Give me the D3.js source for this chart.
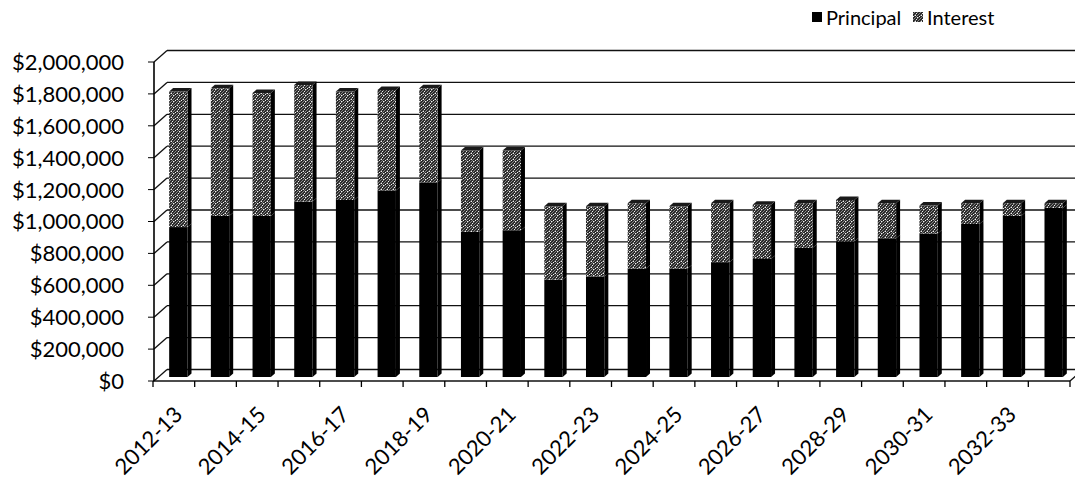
<!DOCTYPE html>
<html>
<head>
<meta charset="utf-8">
<script src="https://cdn.jsdelivr.net/npm/d3@7"></script>
<style>
  html, body { margin: 0; padding: 0; background: #fff; }
  svg { display: block; font-family: Lato, "Open Sans", sans-serif; }
</style>
</head>
<body>
<svg id="chart" width="1075" height="478"></svg>
<script>
// Fiscal years of the debt service schedule
const categories = [
  "2012-13","2013-14","2014-15","2015-16","2016-17","2017-18","2018-19",
  "2019-20","2020-21","2021-22","2022-23","2023-24","2024-25","2025-26",
  "2026-27","2027-28","2028-29","2029-30","2030-31","2031-32","2032-33","2033-34"
];

// Principal paid each year ($)
const principal = [
  940000, 1010000, 1010000, 1100000, 1110000, 1170000, 1220000,
  910000, 920000, 610000, 630000, 680000, 680000, 720000,
  740000, 810000, 850000, 870000, 900000, 960000, 1010000, 1060000
];

// Interest paid each year ($)
const interest = [
  850000, 800000, 770000, 730000, 680000, 630000, 590000,
  510000, 500000, 460000, 440000, 410000, 390000, 370000,
  340000, 280000, 260000, 220000, 175000, 130000, 80000, 30000
];

const yTicks = [0, 200000, 400000, 600000, 800000, 1000000, 1200000, 1400000, 1600000, 1800000, 2000000];
const xLabels = categories.filter((d, i) => i % 2 === 0);

const svg = d3.select("#chart");

// speckled diagonal hatch used for the interest segments
const defs = svg.append("defs");
const pat = defs.append("pattern")
  .attr("id", "hatch")
  .attr("patternUnits", "userSpaceOnUse")
  .attr("width", 6).attr("height", 6);
pat.append("rect").attr("width", 6).attr("height", 6).attr("fill", "#2a2a2a");
pat.append("path").attr("d", "M-1,1 L1,-1 M0,6 L6,0 M5,7 L7,5 M-1,4 L4,-1 M2,7 L7,2")
  .attr("stroke", "#9a9a9a").attr("stroke-width", 0.8);
[[1, 4], [4, 1], [3, 3], [5, 5]].forEach(([cx, cy]) =>
  pat.append("rect").attr("x", cx).attr("y", cy).attr("width", 1).attr("height", 1).attr("fill", "#f0f0f0"));

const x = d3.scaleBand().domain(categories).range([153, 1070]).padding(0);
const y = d3.scaleLinear().domain([0, 2000000]).range([381, 62]);

// depth of the 3-D plot box
const DX = 13, DY = -11.5;
const fmt = v => "$" + d3.format(",")(v);

const grid = svg.append("g").attr("stroke", "#111").attr("stroke-width", 1.3).attr("fill", "none");

// back wall gridlines and side wall diagonals
yTicks.forEach(t => {
  const yy = y(t);
  grid.append("line")
    .attr("x1", 154 + DX).attr("y1", yy + DY)
    .attr("x2", 1075 + DX).attr("y2", yy + DY);
  grid.append("line")
    .attr("x1", 154).attr("y1", yy)
    .attr("x2", 154 + DX).attr("y2", yy + DY);
});

// floor front edge + right edge
grid.append("line").attr("x1", 153).attr("y1", y(0)).attr("x2", 1070).attr("y2", y(0)).attr("stroke-width", 1.6);
grid.append("line").attr("x1", 1070).attr("y1", y(0)).attr("x2", 1070 + DX).attr("y2", y(0) + DY);

// vertical value axis
const yAxis = svg.append("g").attr("stroke", "#000");
yAxis.append("line").attr("x1", 154).attr("x2", 154).attr("y1", y(0)).attr("y2", y(2000000)).attr("stroke-width", 1.6);
yTicks.forEach(t => {
  yAxis.append("line").attr("x1", 148).attr("x2", 154).attr("y1", y(t)).attr("y2", y(t));
});
svg.append("g").selectAll("text").data(yTicks).join("text")
  .attr("x", 124).attr("y", d => y(d)).attr("dy", "0.36em")
  .attr("text-anchor", "end").attr("font-size", 22).attr("fill", "#000")
  .text(fmt);

// category tick marks
const xt = svg.append("g").attr("stroke", "#000").attr("stroke-width", 1.3);
categories.forEach(c => {
  xt.append("line").attr("x1", x(c)).attr("x2", x(c)).attr("y1", y(0)).attr("y2", y(0) + 6);
});
xt.append("line").attr("x1", 1070).attr("x2", 1070).attr("y1", y(0)).attr("y2", y(0) + 6);

// category labels on every second year
svg.append("g").selectAll("text").data(xLabels).join("text")
  .attr("text-anchor", "end").attr("font-size", 22).attr("fill", "#000")
  .attr("transform", d => `translate(${x(d) + x.bandwidth() / 2 + 10},${y(0) + 35}) rotate(-45)`)
  .text(d => d);

// 3-D stacked columns
const faceW = x.bandwidth() * 0.44;
const offX = 4.5, offY = -4;     // columns sit at mid depth
const bdx = 4, bdy = -3.5;       // column depth

const stack = d3.stack().keys(["principal", "interest"])(
  categories.map((c, i) => ({ cat: c, principal: principal[i], interest: interest[i] }))
);
const fills = { principal: "#000", interest: "url(#hatch)" };

const bars = svg.append("g");
categories.forEach((c, i) => {
  const px = x(c) + x.bandwidth() / 2 - faceW / 2 + offX;
  stack.forEach(layer => {
    const [v0, v1] = layer[i];
    const y0 = y(v0) + offY, y1 = y(v1) + offY;
    const g = bars.append("g");
    // right side
    g.append("polygon")
      .attr("points", [[px + faceW, y1], [px + faceW + bdx, y1 + bdy], [px + faceW + bdx, y0 + bdy], [px + faceW, y0]].join(" "))
      .attr("fill", "#000");
    // front
    g.append("rect")
      .attr("x", px).attr("y", y1).attr("width", faceW).attr("height", y0 - y1)
      .attr("fill", fills[layer.key]);
    // top cap on the uppermost segment
    if (layer.key === "interest") {
      g.append("polygon")
        .attr("points", [[px, y1], [px + bdx, y1 + bdy], [px + faceW + bdx, y1 + bdy], [px + faceW, y1]].join(" "))
        .attr("fill", "#1a1a1a");
    }
  });
});

// legend
const legend = svg.append("g").attr("font-size", 20).attr("fill", "#000");
legend.append("rect").attr("x", 812).attr("y", 12).attr("width", 10).attr("height", 10).attr("fill", "#000");
legend.append("text").attr("x", 826).attr("y", 25).text("Principal");
legend.append("rect").attr("x", 913).attr("y", 12).attr("width", 10).attr("height", 10).attr("fill", "url(#hatch)");
legend.append("text").attr("x", 927).attr("y", 25).text("Interest");
</script>
</body>
</html>
